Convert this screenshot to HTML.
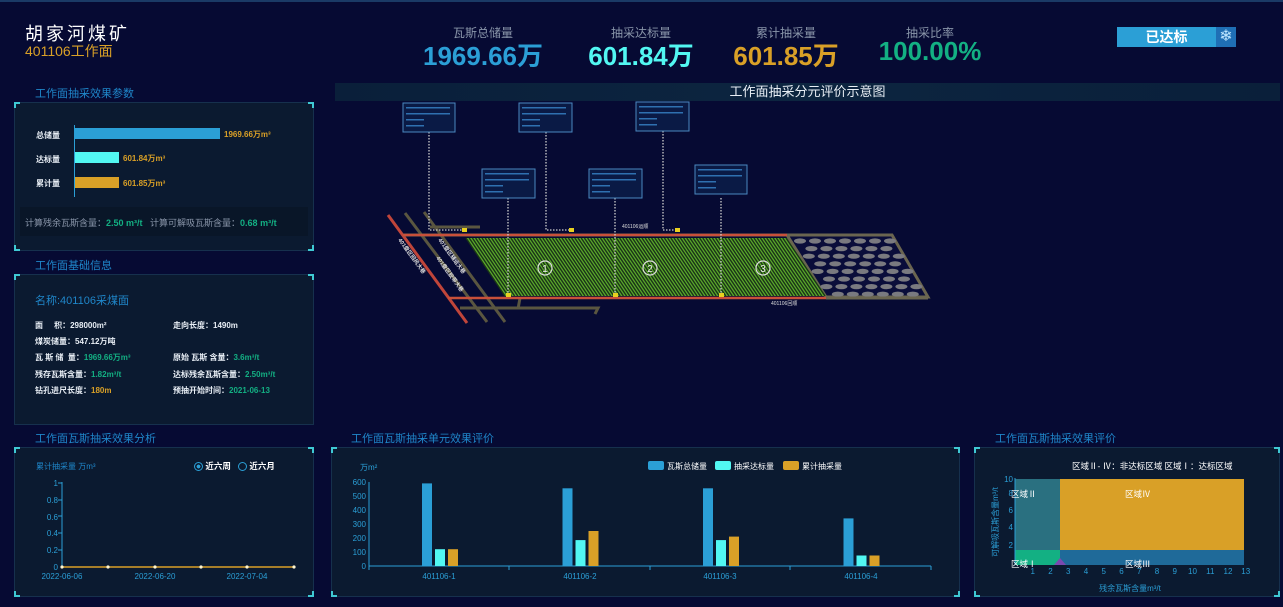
<!DOCTYPE html>
<html><head><meta charset="utf-8">
<style>
*{margin:0;padding:0;box-sizing:border-box}
body{width:1283px;height:607px;background:#060a33;font-family:"Liberation Sans","Noto Sans CJK SC",sans-serif;position:relative;overflow:hidden;color:#fff}
.a{position:absolute;white-space:nowrap}
.panel{position:absolute;background:#0b1a30;border:1px solid #16304d}
.c{position:absolute;width:6px;height:6px;border-color:#3fc9d4;border-style:solid}
.tl{left:-1px;top:-1px;border-width:2px 0 0 2px}.tr{right:-1px;top:-1px;border-width:2px 2px 0 0}
.bl{left:-1px;bottom:-1px;border-width:0 0 2px 2px}.br{right:-1px;bottom:-1px;border-width:0 2px 2px 0}
.pt{color:#1f86c9;font-size:11px}
.lbl{font-size:8px;font-weight:bold;color:#e8eef5}
</style></head><body>
<div class="a" style="left:0;top:0;width:1283px;height:2px;background:#1a3a66"></div>
<div class="a" style="left:25px;top:20px;font-size:18px;letter-spacing:3px;color:#fff">胡家河煤矿</div>
<div class="a" style="left:25px;top:41px;font-size:14px;color:#d9a027">401106工作面</div>

<div class="a" style="left:443px;top:24px;width:80px;text-align:center;font-size:12px;color:#8a96aa">瓦斯总储量</div>
<div class="a" style="left:423px;top:36px;width:120px;text-align:center;font-size:26px;font-weight:bold;color:#2b9fd6">1969.66万</div>
<div class="a" style="left:601px;top:24px;width:80px;text-align:center;font-size:12px;color:#8a96aa">抽采达标量</div>
<div class="a" style="left:576px;top:36px;width:130px;text-align:center;font-size:26px;font-weight:bold;color:#52f7f2">601.84万</div>
<div class="a" style="left:746px;top:24px;width:80px;text-align:center;font-size:12px;color:#8a96aa">累计抽采量</div>
<div class="a" style="left:721px;top:36px;width:130px;text-align:center;font-size:26px;font-weight:bold;color:#d9a027">601.85万</div>
<div class="a" style="left:890px;top:24px;width:80px;text-align:center;font-size:12px;color:#8a96aa">抽采比率</div>
<div class="a" style="left:865px;top:36px;width:130px;text-align:center;font-size:26px;font-weight:bold;color:#13b083">100.00%</div>

<div class="a" style="left:1117px;top:27px;width:99px;height:20px;background:#2b9fd6;text-align:center;font-size:14px;font-weight:bold;line-height:20px">已达标</div>
<div class="a" style="left:1216px;top:27px;width:20px;height:20px;background:#1f6fb5;color:#bfe6ff;font-size:16px;text-align:center;line-height:20px">❄</div>

<div class="a" style="left:335px;top:83px;width:945px;height:18px;background:linear-gradient(90deg,#0a1f3a,#0c2540 50%,#0a1f3a);text-align:center;font-size:13px;line-height:18px;color:#e8eef5">工作面抽采分元评价示意图</div>

<!-- panel 1 -->
<div class="a pt" style="left:35px;top:85px">工作面抽采效果参数</div>
<div class="panel" style="left:14px;top:102px;width:300px;height:149px"><i class="c tl"></i><i class="c tr"></i><i class="c bl"></i><i class="c br"></i></div>
<div class="a" style="left:74px;top:125px;width:1px;height:72px;background:#2b9fd6"></div>
<div class="a lbl" style="left:36px;top:130px">总储量</div>
<div class="a lbl" style="left:36px;top:154px">达标量</div>
<div class="a lbl" style="left:36px;top:178px">累计量</div>
<div class="a" style="left:75px;top:128px;width:145px;height:11px;background:#2b9fd6"></div>
<div class="a" style="left:75px;top:152px;width:44px;height:11px;background:#52f7f2"></div>
<div class="a" style="left:75px;top:177px;width:44px;height:11px;background:#d9a027"></div>
<div class="a lbl" style="left:224px;top:129px;color:#d9a027">1969.66万m³</div>
<div class="a lbl" style="left:123px;top:153px;color:#d9a027">601.84万m³</div>
<div class="a lbl" style="left:123px;top:178px;color:#d9a027">601.85万m³</div>
<div class="a" style="left:20px;top:207px;width:288px;height:29px;background:#091628"></div>
<div class="a" style="left:25px;top:216px;font-size:9px;color:#8a96aa">计算残余瓦斯含量：<b style="color:#13b083">2.50 m³/t</b>&nbsp;&nbsp; 计算可解吸瓦斯含量：<b style="color:#13b083">0.68 m³/t</b></div>

<!-- panel 2 -->
<div class="a pt" style="left:35px;top:257px">工作面基础信息</div>
<div class="panel" style="left:14px;top:274px;width:300px;height:151px"><i class="c tl"></i><i class="c tr"></i></div>
<div class="a" style="left:35px;top:292px;font-size:11px;color:#1f86c9">名称:401106采煤面</div>
<div class="a lbl" style="left:35px;top:320px">面&nbsp;&nbsp;&nbsp;&nbsp;&nbsp;积：298000m²</div>
<div class="a lbl" style="left:173px;top:320px">走向长度：1490m</div>
<div class="a lbl" style="left:35px;top:336px">煤炭储量：547.12万吨</div>
<div class="a lbl" style="left:35px;top:352px">瓦&nbsp;斯&nbsp;储&nbsp;&nbsp;量：<span style="color:#13b083">1969.66万m³</span></div>
<div class="a lbl" style="left:173px;top:352px">原始&nbsp;瓦斯&nbsp;含量：<span style="color:#13b083">3.6m³/t</span></div>
<div class="a lbl" style="left:35px;top:369px">残存瓦斯含量：<span style="color:#13b083">1.82m³/t</span></div>
<div class="a lbl" style="left:173px;top:369px">达标残余瓦斯含量：<span style="color:#13b083">2.50m³/t</span></div>
<div class="a lbl" style="left:35px;top:385px">钻孔进尺长度：<span style="color:#d9a027">180m</span></div>
<div class="a lbl" style="left:173px;top:385px">预抽开始时间：<span style="color:#13b083">2021-06-13</span></div>

<!-- diagram -->
<svg class="a" style="left:0;top:0" width="1283" height="607" id="dg">
<g stroke="#5a5640" stroke-width="3" fill="none">
<line x1="405" y1="213" x2="487" y2="322"/><line x1="424" y1="212" x2="505" y2="322"/>
<line x1="430" y1="227" x2="480" y2="227"/>
<polyline points="460,308 598,308 595,314"/><line x1="520" y1="298" x2="518" y2="309"/>
</g>
<line x1="388" y1="215" x2="467" y2="323" stroke="#c0453a" stroke-width="3"/>
<polygon points="787,235 892,235 928,297 826,297" fill="#0a0d3a" stroke="#6a6550" stroke-width="3"/>
<line x1="403" y1="235" x2="892" y2="235" stroke="#6a6550" stroke-width="3"/>
<polygon points="466,238 787,238 826,296 505,296" fill="#5aa82a"/>
<g id="stripes"></g>
<g id="circ" fill="#7a7a80"></g>
<line x1="403" y1="235" x2="787" y2="235" stroke="#c9503a" stroke-width="2.5"/>
<line x1="448" y1="298" x2="826" y2="298" stroke="#c9503a" stroke-width="2.5"/>
<line x1="826" y1="298" x2="928" y2="298" stroke="#6a6550" stroke-width="3"/>
<g fill="none" stroke="#ddd" stroke-width="1.2">
<circle cx="545" cy="268" r="7"/><circle cx="650" cy="268" r="7"/><circle cx="763" cy="268" r="7"/></g>
<g fill="#eee" font-size="10" text-anchor="middle"><text x="545" y="272">1</text><text x="650" y="272">2</text><text x="763" y="272">3</text></g>
<g stroke="#ccc" stroke-width="1.3" stroke-dasharray="1.5,1.5" fill="none">
<polyline points="429,132 429,230 464,230"/><polyline points="546,132 546,230 571,230"/><polyline points="663,131 663,230 677,230"/>
<line x1="508" y1="198" x2="508" y2="294"/><line x1="615" y1="198" x2="615" y2="294"/><line x1="721" y1="198" x2="721" y2="294"/></g>
<g fill="#e8d020"><rect x="462" y="228" width="5" height="4"/><rect x="569" y="228" width="5" height="4"/><rect x="675" y="228" width="5" height="4"/>
<rect x="506" y="293" width="5" height="4"/><rect x="613" y="293" width="5" height="4"/><rect x="719" y="293" width="5" height="4"/></g>
<g fill="#0a1a45" stroke="#4a88c0" stroke-width="1">
<rect x="403" y="103" width="52" height="29"/><rect x="519" y="103" width="53" height="29"/><rect x="636" y="102" width="53" height="29"/>
<rect x="482" y="169" width="53" height="29"/><rect x="589" y="169" width="53" height="29"/><rect x="695" y="165" width="52" height="29"/></g>
<g id="boxtxt" fill="#2f70b0"></g>
<g fill="#ddd" font-size="5"><text x="622" y="228">401106运顺</text><text x="771" y="305">401106回顺</text></g>
<g fill="#ddd" font-size="5.5" font-weight="bold">
<text transform="translate(398,240) rotate(54)">401盘区回风大巷</text>
<text transform="translate(438,240) rotate(54)">401盘区辅运大巷</text>
<text transform="translate(436,258) rotate(54)">401盘区胶带大巷</text></g>
</svg>

<!-- bottom left -->
<div class="a pt" style="left:35px;top:430px">工作面瓦斯抽采效果分析</div>
<div class="panel" style="left:14px;top:447px;width:300px;height:150px"><i class="c tl"></i><i class="c tr"></i><i class="c bl"></i><i class="c br"></i></div>
<div class="a" style="left:36px;top:461px;font-size:8px;color:#1f86c9">累计抽采量 万m³</div>
<div class="a" style="left:194px;top:460px;font-size:8.5px;font-weight:bold"><span style="display:inline-block;width:9px;height:9px;border:1px solid #2b9fd6;border-radius:50%;vertical-align:-2px;background:radial-gradient(#2b9fd6 35%,transparent 40%)"></span> 近六周&nbsp;&nbsp;&nbsp;<span style="display:inline-block;width:9px;height:9px;border:1px solid #2b9fd6;border-radius:50%;vertical-align:-2px"></span> 近六月</div>
<svg class="a" style="left:0;top:0" width="330" height="607">
<g fill="#2b9fd6" font-size="8" text-anchor="end">
<text x="58" y="486">1</text><text x="58" y="503">0.8</text><text x="58" y="520">0.6</text><text x="58" y="536">0.4</text><text x="58" y="553">0.2</text><text x="58" y="570">0</text></g>
<line x1="62" y1="482" x2="62" y2="567" stroke="#2b9fd6"/>
<g stroke="#2b9fd6"><line x1="58" y1="483" x2="62" y2="483"/><line x1="58" y1="500" x2="62" y2="500"/><line x1="58" y1="516" x2="62" y2="516"/><line x1="58" y1="533" x2="62" y2="533"/><line x1="58" y1="550" x2="62" y2="550"/></g>
<line x1="62" y1="567" x2="294" y2="567" stroke="#d9a027" stroke-width="1.5"/>
<g fill="#fff6d0"><circle cx="62" cy="567" r="1.6"/><circle cx="108" cy="567" r="1.6"/><circle cx="155" cy="567" r="1.6"/><circle cx="201" cy="567" r="1.6"/><circle cx="247" cy="567" r="1.6"/><circle cx="294" cy="567" r="1.6"/></g>
<g fill="#2b9fd6" font-size="8" text-anchor="middle"><text x="62" y="579">2022-06-06</text><text x="155" y="579">2022-06-20</text><text x="247" y="579">2022-07-04</text></g>
</svg>

<!-- bottom mid -->
<div class="a pt" style="left:351px;top:430px">工作面瓦斯抽采单元效果评价</div>
<div class="panel" style="left:331px;top:447px;width:629px;height:150px"><i class="c tl"></i><i class="c tr"></i><i class="c bl"></i><i class="c br"></i></div>
<svg class="a" style="left:0;top:0" width="1283" height="607" id="bar">
<text x="360" y="470" fill="#2b9fd6" font-size="8">万m²</text>
<g fill="#2b9fd6" font-size="8" text-anchor="end">
<text x="366" y="485">600</text><text x="366" y="499">500</text><text x="366" y="513">400</text><text x="366" y="527">300</text><text x="366" y="541">200</text><text x="366" y="555">100</text><text x="366" y="569">0</text></g>
<line x1="369" y1="482" x2="369" y2="566" stroke="#2b9fd6"/>
<line x1="369" y1="566" x2="931" y2="566" stroke="#2b9fd6"/>
<g stroke="#2b9fd6"><line x1="509" y1="566" x2="509" y2="570"/><line x1="650" y1="566" x2="650" y2="570"/><line x1="790" y1="566" x2="790" y2="570"/><line x1="931" y1="566" x2="931" y2="570"/><line x1="369" y1="566" x2="369" y2="570"/></g>
<g fill="#2b9fd6" font-size="8" text-anchor="middle"><text x="439" y="579">401106-1</text><text x="580" y="579">401106-2</text><text x="720" y="579">401106-3</text><text x="861" y="579">401106-4</text></g>
<rect x="648" y="461" width="16" height="9" rx="2" fill="#2b9fd6"/><text x="667" y="469" fill="#fff" font-size="8">瓦斯总储量</text>
<rect x="715" y="461" width="16" height="9" rx="2" fill="#52f7f2"/><text x="734" y="469" fill="#fff" font-size="8">抽采达标量</text>
<rect x="783" y="461" width="16" height="9" rx="2" fill="#d9a027"/><text x="802" y="469" fill="#fff" font-size="8">累计抽采量</text>
<g id="bars"></g>
</svg>

<!-- bottom right -->
<div class="a pt" style="left:995px;top:430px">工作面瓦斯抽采效果评价</div>
<div class="panel" style="left:974px;top:447px;width:306px;height:150px"><i class="c tl"></i><i class="c tr"></i><i class="c bl"></i><i class="c br"></i></div>
<svg class="a" style="left:0;top:0" width="1283" height="607">
<text x="1072" y="469" fill="#fff" font-size="8.5">区域Ⅱ- Ⅳ：非达标区域 区域Ⅰ：达标区域</text>
<rect x="1015" y="479" width="45" height="71" fill="#2a7080"/>
<rect x="1060" y="479" width="184" height="71" fill="#d9a027"/>
<rect x="1015" y="550" width="45" height="15" fill="#13b083"/>
<rect x="1060" y="550" width="184" height="15" fill="#1f6a99"/>
<polygon points="1054,565 1066,565 1060,558" fill="#7a4ab0"/>
<line x1="1015" y1="478" x2="1015" y2="565" stroke="#2b9fd6"/>
<g fill="#fff" font-size="8.5"><text x="1011" y="497">区域Ⅱ</text><text x="1125" y="497">区域Ⅳ</text><text x="1011" y="567">区域Ⅰ</text><text x="1125" y="567">区域Ⅲ</text></g>
<g fill="#2b9fd6" font-size="8" text-anchor="end"><text x="1013" y="482">10</text><text x="1013" y="496">8</text><text x="1013" y="513">6</text><text x="1013" y="530">4</text><text x="1013" y="548">2</text></g>
<g fill="#2b9fd6" font-size="8" text-anchor="middle" id="xt"></g>
<text x="1130" y="591" fill="#2b9fd6" font-size="8" text-anchor="middle">残余瓦斯含量m³/t</text>
<text transform="translate(998,522) rotate(-90)" fill="#2b9fd6" font-size="8" text-anchor="middle">可解吸瓦斯含量m³/t</text>
</svg>
<script>
var NS="http://www.w3.org/2000/svg";
function el(p,t,a){var e=document.createElementNS(NS,t);for(var k in a)e.setAttribute(k,a[k]);p.appendChild(e);return e;}
var s=document.getElementById("stripes");
for(var x=466;x<787;x+=3.2){el(s,"line",{x1:x,y1:238,x2:x+39,y2:296,stroke:"#1a3318","stroke-width":1.4});}
var c=document.getElementById("circ");
for(var r=0;r<8;r++){var y=241+r*7.6;var off=(r%2)*7;for(var i=0;i<8;i++){var x0=800+r*4.4+off+i*15;if(x0<893+r*4.4)el(c,"ellipse",{cx:x0,cy:y,rx:6,ry:2.6});}}
var bt=document.getElementById("boxtxt");
[[403,103],[519,103],[636,102],[482,169],[589,169],[695,165]].forEach(function(b){for(var i=0;i<4;i++)el(bt,"rect",{x:b[0]+3,y:b[1]+4+i*6,width:i<2?44:18,height:1.5});});
var bg=document.getElementById("bars");var d=[[590,120,120],[555,185,250],[555,185,210],[340,75,75]],col=["#2b9fd6","#52f7f2","#d9a027"];
d.forEach(function(v,i){var cx=439+i*140.5;v.forEach(function(val,j){var h=val*84/600;el(bg,"rect",{x:cx-17+j*13,y:566-h,width:10,height:h,fill:col[j]});});});
var xt=document.getElementById("xt");for(var i=1;i<=13;i++){var t=el(xt,"text",{x:1015+i*17.75,y:574});t.textContent=i;}
</script>
</body></html>
